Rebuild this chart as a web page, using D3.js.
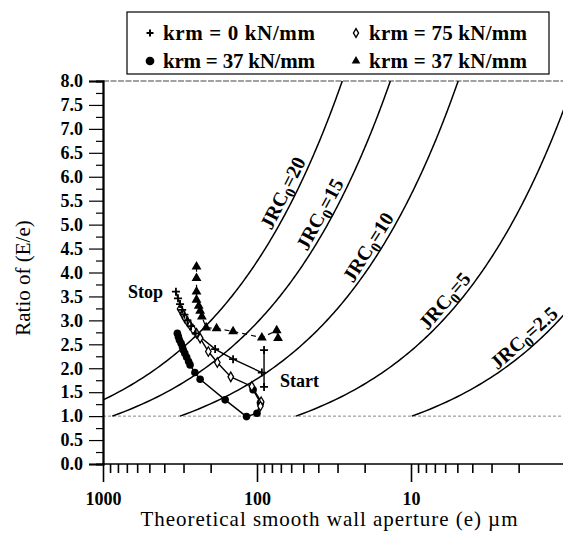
<!DOCTYPE html>
<html>
<head>
<meta charset="utf-8">
<script src="https://cdn.jsdelivr.net/npm/d3@7"></script>
<style>
  html, body { margin: 0; padding: 0; background: #fff; }
  svg { display: block; font-family: "Liberation Serif", "Times New Roman", serif; }
</style>
</head>
<body>
<svg id="chart" width="563" height="533"></svg>
<script>
// Aperture (e, µm) and ratio E/e for each loading path
const plusE = [336, 326, 316, 306, 296, 283, 268, 250, 187, 143, 93];
const plusR = [3.60, 3.46, 3.34, 3.22, 3.12, 3.00, 2.88, 2.73, 2.40, 2.19, 1.91];
// start reading: range of E/e at the first step
const startE = [90, 90];
const startR = [2.38, 1.61];

const diamondE = [316, 303, 294, 283, 272, 260, 247, 234, 207, 181, 148, 108, 94, 95];
const diamondR = [3.24, 3.13, 3.05, 2.97, 2.90, 2.81, 2.73, 2.63, 2.35, 2.12, 1.82, 1.62, 1.30, 1.21];

const circleE = [329, 324, 319, 311, 305, 301, 294, 286, 278, 272, 253, 234, 161, 117, 100, 95, 106];
const circleR = [2.73, 2.66, 2.59, 2.52, 2.45, 2.38, 2.31, 2.23, 2.14, 2.07, 1.91, 1.77, 1.34, 0.99, 1.06, 1.28, 1.55];

const triE = [247, 247, 247, 247, 239, 234, 228, 214, 183, 143, 93, 74.5, 73];
const triR = [4.12, 3.88, 3.60, 3.43, 3.30, 3.20, 3.08, 2.85, 2.83, 2.77, 2.64, 2.79, 2.63];

// Joint roughness coefficients for the theoretical curves
const jrcValues = [20, 15, 10, 5, 2.5];
const jrcLabelAt = [5.55, 5.1, 4.4, 3.25, 2.45];

const xMajorTicks = [1000, 100, 10];
const xMinorTicks = [900, 800, 700, 600, 500, 400, 300, 200,
                     90, 80, 70, 60, 50, 40, 30, 20,
                     9, 8, 7, 6, 5, 4, 3, 2];
const yMajorTicks = [0, 0.5, 1, 1.5, 2, 2.5, 3, 3.5, 4, 4.5, 5, 5.5, 6, 6.5, 7, 7.5, 8];
const yMinorTicks = [0.25, 0.75, 1.25, 1.75, 2.25, 2.75, 3.25, 3.75, 4.25, 4.75,
                     5.25, 5.75, 6.25, 6.75, 7.25, 7.75];

const legendLabels = ["krm = 0 kN/mm", "krm = 75 kN/mm", "krm = 37 kN/mm", "krm = 37 kN/mm"];

const svg = d3.select("#chart");
const pLeft = 103, pRight = 565, pTop = 81, pBottom = 464;

const x = d3.scaleLog().domain([1000, 1]).range([pLeft, pRight]);
const y = d3.scaleLinear().domain([0, 8]).range([pBottom, pTop]);

const plot = svg.append("g");
svg.append("defs").append("clipPath").attr("id", "plotClip")
  .append("rect").attr("x", pLeft).attr("y", pTop).attr("width", 563 - pLeft).attr("height", pBottom - pTop);

// frame lines: top border and the E/e = 1 reference
plot.append("line").attr("x1", pLeft).attr("x2", 563).attr("y1", pTop).attr("y2", pTop)
  .attr("stroke", "#444").attr("stroke-width", 1.2).attr("stroke-dasharray", "6,1.5");
plot.append("line").attr("x1", pLeft).attr("x2", 563).attr("y1", y(1)).attr("y2", y(1))
  .attr("stroke", "#888").attr("stroke-width", 1).attr("stroke-dasharray", "3,2");

// Barton curves: E/e = sqrt(JRC^2.5 / e)
const curveLine = d3.line().x(d => x(d[0])).y(d => y(d[1]));
const curves = plot.append("g").attr("clip-path", "url(#plotClip)");
jrcValues.forEach((j, i) => {
  const k = Math.pow(j, 2.5);
  const pts = [];
  for (let r = 1; r <= 8.6; r += 0.05) pts.push([k / (r * r), r]);
  curves.append("path").attr("d", curveLine(pts))
    .attr("fill", "none").attr("stroke", "#000").attr("stroke-width", 1.5);

  // label placed along the curve, slightly to its upper-left
  const r0 = jrcLabelAt[i];
  const e0 = k / (r0 * r0), e1 = k / ((r0 + 0.1) * (r0 + 0.1));
  const px0 = x(e0), py0 = y(r0), px1 = x(e1), py1 = y(r0 + 0.1);
  const ang = Math.atan2(py1 - py0, px1 - px0);
  const nx = Math.sin(ang) * 5, ny = -Math.cos(ang) * 5;
  const t = plot.append("text")
    .attr("transform", `translate(${px0 + nx},${py0 + ny}) rotate(${ang * 180 / Math.PI})`)
    .attr("text-anchor", "middle").attr("font-size", 20).attr("font-weight", "bold").attr("fill", "#000");
  t.append("tspan").text("JRC");
  t.append("tspan").attr("font-size", 15).attr("dy", 5).text("0");
  t.append("tspan").attr("dy", -5).text("=" + j);
});

// axes
const xAxisG = svg.append("g").attr("transform", `translate(0,${pBottom})`);
xAxisG.call(d3.axisBottom(x).tickValues(xMinorTicks).tickSize(9).tickFormat(""));
xAxisG.call(g => g.append("g").call(d3.axisBottom(x).tickValues(xMajorTicks).tickSize(18).tickPadding(10).tickFormat(d3.format("d"))));
xAxisG.selectAll(".domain").attr("d", `M${pLeft},0H563`);
xAxisG.selectAll("line").attr("stroke-width", 1.6);
xAxisG.selectAll("text").attr("font-size", 18).attr("font-weight", "bold")
  .attr("font-family", "Liberation Serif").attr("fill", "#000");

const yAxisG = svg.append("g").attr("transform", `translate(${pLeft},0)`);
yAxisG.call(d3.axisLeft(y).tickValues(yMinorTicks).tickSize(7).tickFormat(""));
yAxisG.call(g => g.append("g").call(d3.axisLeft(y).tickValues(yMajorTicks).tickSize(14).tickPadding(6).tickFormat(d3.format(".1f"))));
yAxisG.selectAll(".domain").attr("stroke-width", 1.8);
yAxisG.selectAll("line").attr("stroke-width", 1.2);
yAxisG.selectAll("text").attr("font-size", 18).attr("font-weight", "bold")
  .attr("font-family", "Liberation Serif").attr("fill", "#000");
svg.selectAll(".domain").attr("stroke", "#000");

// axis titles
svg.append("text").attr("x", 329).attr("y", 526).attr("text-anchor", "middle")
  .attr("font-size", 21).attr("textLength", 377).attr("lengthAdjust", "spacing")
  .text("Theoretical smooth wall aperture (e) µm");
svg.append("text").attr("transform", "translate(30,278) rotate(-90)").attr("text-anchor", "middle")
  .attr("font-size", 21).text("Ratio of (E/e)");

// series
const zip = (a, b) => a.map((v, i) => [v, b[i]]);
const pathLine = d3.line().x(d => x(d[0])).y(d => y(d[1]));
const series = plot.append("g");

const lineStyle = (p, dash) => p.attr("fill", "none").attr("stroke", "#000")
  .attr("stroke-width", dash ? 1.2 : 1.4).attr("stroke-dasharray", dash ? "5,4" : null);
series.append("path").attr("d", pathLine(zip(triE, triR))).call(lineStyle, true);
series.append("path").attr("d", pathLine(zip(plusE, plusR))).call(lineStyle, false);
series.append("path").attr("d", pathLine(zip(startE, startR))).call(lineStyle, false);
series.append("path").attr("d", pathLine(zip(diamondE, diamondR))).call(lineStyle, false);
series.append("path").attr("d", pathLine(zip(circleE, circleR))).call(lineStyle, false);

const sym = (type, size) => d3.symbol().type(type).size(size)();
function marks(data, type, size, fill, stroke, sw) {
  series.selectAll(null).data(data).enter().append("path")
    .attr("d", sym(type, size))
    .attr("transform", d => `translate(${x(d[0])},${y(d[1])})`)
    .attr("fill", fill).attr("stroke", stroke).attr("stroke-width", sw);
}
marks(zip(circleE, circleR), d3.symbolCircle, 45, "#000", "none", 0);
marks(zip(triE, triR), d3.symbolTriangle, 42, "#000", "none", 0);
marks(zip(diamondE, diamondR), d3.symbolDiamond, 26, "#fff", "#000", 1.3);
series.selectAll(null).data(zip(plusE, plusR).concat(zip(startE, startR))).enter().append("path")
  .attr("d", "M-4,0H4M0,-4V4")
  .attr("transform", d => `translate(${x(d[0])},${y(d[1])})`)
  .attr("stroke", "#000").attr("stroke-width", 1.8);

// annotations
svg.append("text").attr("x", 128).attr("y", 298).attr("font-size", 18).attr("font-weight", "bold").text("Stop");
svg.append("text").attr("x", 280).attr("y", 387).attr("font-size", 18).attr("font-weight", "bold").text("Start");

// legend
const lg = svg.append("g");
lg.append("rect").attr("x", 127).attr("y", 12).attr("width", 422).attr("height", 62)
  .attr("fill", "#fff").attr("stroke", "#000").attr("stroke-width", 1.2);
const legendPos = [[150, 40], [356, 40], [150, 68], [356, 68]];
const legendWidth = [152, 158, 152, 158];
const legendSym = [
  g => g.append("path").attr("d", "M-3.5,0H3.5M0,-3.5V3.5").attr("stroke", "#000").attr("stroke-width", 2),
  g => g.append("path").attr("d", sym(d3.symbolDiamond, 22)).attr("fill", "#fff").attr("stroke", "#000").attr("stroke-width", 1.4),
  g => g.append("path").attr("d", sym(d3.symbolCircle, 60)).attr("fill", "#000"),
  g => g.append("path").attr("d", sym(d3.symbolTriangle, 32)).attr("fill", "#000")
];
legendLabels.forEach((lab, i) => {
  const [lx, ly] = legendPos[i];
  const g = lg.append("g").attr("transform", `translate(${lx},${ly - 7})`);
  legendSym[i](g);
  lg.append("text").attr("x", lx + 13).attr("y", ly).attr("font-size", 21).attr("font-weight", "bold")
    .attr("textLength", legendWidth[i]).attr("lengthAdjust", "spacing").text(lab);
});
</script>
</body>
</html>
